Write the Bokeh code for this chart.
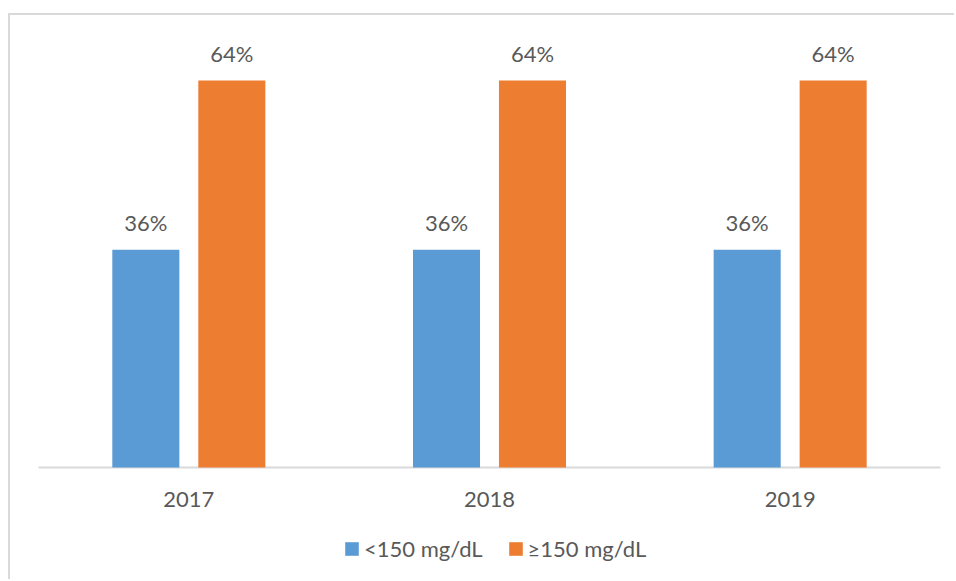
from bokeh.plotting import figure
from bokeh.models import ColumnDataSource, Range1d, Legend, LegendItem
from bokeh.transform import dodge
from bokeh.core.properties import value
from bokeh.embed import file_html
from bokeh.resources import INLINE

years = ["2017", "2018", "2019"]
below_150 = [0.36, 0.36, 0.36]
above_150 = [0.64, 0.64, 0.64]
series_names = ["<150 mg/dL", "\u2265150 mg/dL"]
colors = ["#5B9BD5", "#ED7D31"]

pos = [i + 0.5 for i in range(len(years))]
src = ColumnDataSource(dict(
    pos=pos,
    years=years,
    zero=[0] * len(years),
    low=below_150,
    high=above_150,
    low_lbl=[f"{round(v*100)}%" for v in below_150],
    high_lbl=[f"{round(v*100)}%" for v in above_150],
))

FONT = "Lato"
TXT = "#595959"
FS = "22px"

p = figure(width=946, height=566, output_backend="svg", toolbar_location=None,
           x_range=Range1d(-0.09313, 3.05322),
           y_range=Range1d(-0.18853, 0.74750),
           min_border=0)
p.styles = {"margin-left": "8px", "margin-top": "13px",
            "border-left": "2px solid #D9D9D9", "border-top": "2px solid #D9D9D9"}
p.outline_line_color = None
p.background_fill_color = "white"
p.border_fill_color = "white"
p.grid.visible = False
p.axis.visible = False

# category axis baseline
p.segment(x0=0, y0=0, x1=len(years), y1=0, line_color="#D9D9D9", line_width=2)

off = 0.143
w = 0.223
r1 = p.vbar(x=dodge("pos", -off), top="low", width=w, source=src,
            fill_color=colors[0], line_color=None)
r2 = p.vbar(x=dodge("pos", off), top="high", width=w, source=src,
            fill_color=colors[1], line_color=None)

p.text(x=dodge("pos", -off), y="low", text="low_lbl", source=src,
       text_align="center", text_baseline="alphabetic", y_offset=-27,
       text_font=value(FONT), text_font_size=FS, text_color=TXT)
p.text(x=dodge("pos", off), y="high", text="high_lbl", source=src,
       text_align="center", text_baseline="alphabetic", y_offset=-27,
       text_font=value(FONT), text_font_size=FS, text_color=TXT)

# category tick labels
p.text(x="pos", y="zero", text="years", source=src,
       text_align="center", text_baseline="alphabetic", y_offset=32,
       text_font=value(FONT), text_font_size=FS, text_color=TXT)

legend = Legend(items=[LegendItem(label=series_names[0], renderers=[r1]),
                       LegendItem(label=series_names[1], renderers=[r2])],
                orientation="horizontal", location=(333, 19),
                glyph_width=17, glyph_height=17, label_height=17, label_standoff=4, spacing=24,
                padding=0, margin=0, border_line_color=None, background_fill_alpha=0,
                label_text_font=FONT, label_text_font_size=FS, label_text_color=TXT)
p.add_layout(legend, "center")

open("out.html", "w").write(file_html(p, INLINE))
